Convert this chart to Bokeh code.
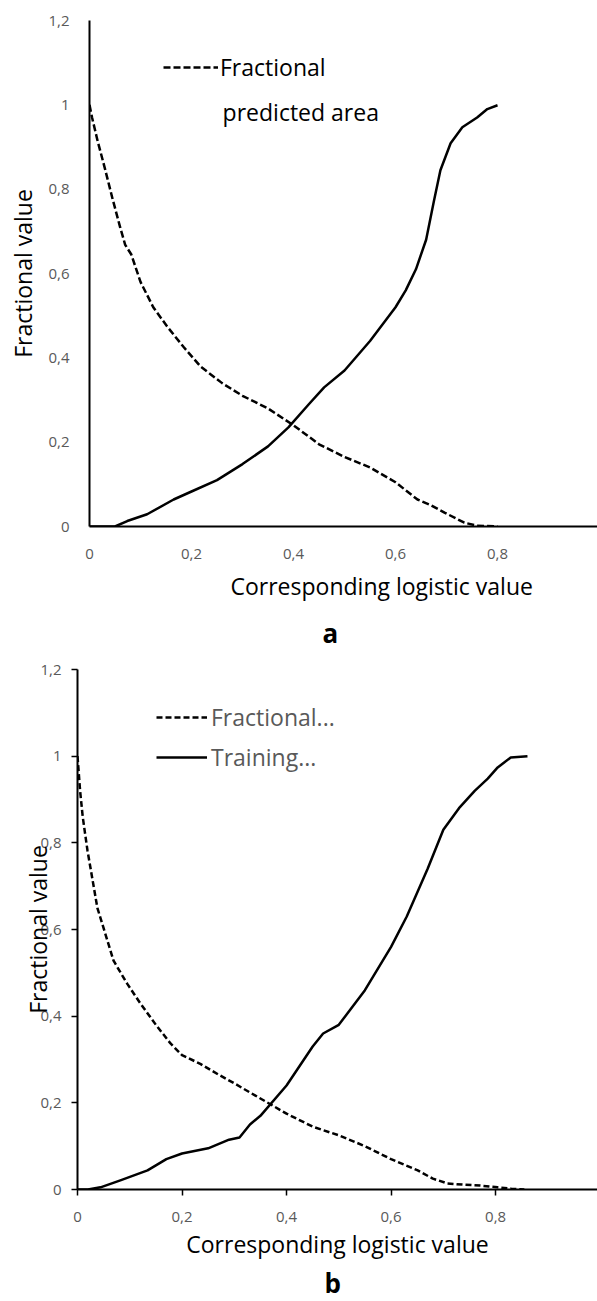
from bokeh.plotting import figure
from bokeh.models import (Range1d, FixedTicker, CustomJSTickFormatter, Label,
                          Legend, LegendItem, Title)
from bokeh.embed import file_html
from bokeh.resources import INLINE

# ---- data (a) ----
a_area_x = [0, 0.005, 0.016, 0.03, 0.045, 0.06, 0.07, 0.082, 0.1, 0.125, 0.153, 0.185, 0.218, 0.26,
            0.3, 0.35, 0.4, 0.45, 0.5, 0.55, 0.6, 0.643, 0.67, 0.696, 0.735, 0.76, 0.8]
a_area_y = [1.0, 0.97, 0.914, 0.85, 0.778, 0.71, 0.668, 0.645, 0.58, 0.52, 0.473, 0.425, 0.379, 0.34,
            0.31, 0.28, 0.24, 0.195, 0.165, 0.14, 0.105, 0.064, 0.05, 0.033, 0.009, 0.002, 0.0]
a_train_x = [0, 0.05, 0.074, 0.113, 0.165, 0.2, 0.25, 0.3, 0.35, 0.39, 0.43, 0.46, 0.5, 0.55, 0.6,
             0.62, 0.64, 0.66, 0.675, 0.688, 0.708, 0.731, 0.76, 0.78, 0.8]
a_train_y = [0, 0, 0.013, 0.029, 0.064, 0.083, 0.11, 0.148, 0.19, 0.235, 0.29, 0.33, 0.37, 0.44, 0.52,
             0.56, 0.61, 0.68, 0.77, 0.845, 0.909, 0.947, 0.97, 0.99, 0.999]

# ---- data (b) ----
b_area_x = [0, 0.005, 0.01, 0.019, 0.038, 0.069, 0.095, 0.12, 0.15, 0.178, 0.2, 0.235, 0.27, 0.3,
            0.35, 0.4, 0.45, 0.5, 0.55, 0.6, 0.651, 0.68, 0.708, 0.74, 0.771, 0.804, 0.83, 0.855]
b_area_y = [1.0, 0.92, 0.86, 0.783, 0.65, 0.528, 0.475, 0.43, 0.38, 0.337, 0.31, 0.29, 0.265, 0.245,
            0.21, 0.175, 0.145, 0.125, 0.1, 0.07, 0.044, 0.025, 0.014, 0.011, 0.009, 0.005, 0.002, 0.0]
b_train_x = [0, 0.02, 0.044, 0.082, 0.134, 0.17, 0.2, 0.25, 0.29, 0.31, 0.33, 0.35, 0.4, 0.45, 0.47,
             0.5, 0.55, 0.6, 0.63, 0.67, 0.7, 0.73, 0.76, 0.785, 0.804, 0.829, 0.861]
b_train_y = [0, 0.0, 0.005, 0.021, 0.044, 0.07, 0.083, 0.095, 0.115, 0.12, 0.15, 0.17, 0.24, 0.33, 0.36,
             0.38, 0.46, 0.56, 0.63, 0.74, 0.83, 0.88, 0.92, 0.948, 0.974, 0.997, 1.0]

y_ticks = [0, 0.2, 0.4, 0.6, 0.8, 1.0, 1.2]
x_ticks = [0, 0.2, 0.4, 0.6, 0.8, 1.0]
x_title = "Corresponding logistic value"
y_title = "Fractional value"

FONT = "Open Sans"
TXT = "23px"
fmt_code = "var s = tick.toFixed(1).replace('.', ','); if (s.endsWith(',0')) { s = s.slice(0, -2); } return s;"


def base_fig(height, left, top, bottom, xend, ticks_visible):
    p = figure(width=597, height=height, output_backend="svg", toolbar_location=None,
               x_range=Range1d(0, xend), y_range=Range1d(0, 1.2),
               min_border_left=left, min_border_right=0, min_border_top=top, min_border_bottom=bottom)
    p.outline_line_color = None
    p.grid.visible = False
    for ax, tk in ((p.xaxis[0], x_ticks), (p.yaxis[0], y_ticks)):
        ax.ticker = FixedTicker(ticks=tk)
        ax.formatter = CustomJSTickFormatter(code=fmt_code)
        ax.axis_line_width = 2
        ax.axis_line_color = "black"
        ax.minor_tick_line_color = None
        ax.major_label_text_font = FONT
        ax.major_label_text_font_size = "15px"
        ax.major_label_text_color = "#595959"
        ax.axis_label_text_font = FONT
        ax.axis_label_text_font_size = TXT
        ax.axis_label_text_font_style = "normal"
        ax.axis_label_text_color = "black"
        if ticks_visible:
            ax.major_tick_in = 0
            ax.major_tick_out = 6
            ax.major_tick_line_width = 1.5
            ax.major_tick_line_color = "black"
        else:
            ax.major_tick_line_color = None
            ax.major_tick_in = 0
            ax.major_tick_out = 0
    return p


# ---------- chart a ----------
p1 = base_fig(655, 89, 20, 128, 0.996, False)
p1.xaxis[0].major_label_standoff = 22
p1.yaxis[0].major_label_standoff = 20
p1.yaxis[0].axis_label = y_title
p1.yaxis[0].axis_label_standoff = 6
ra_area = p1.line(a_area_x, a_area_y, line_color="black", line_width=2.5, line_dash="7 3", line_join="round")
ra_train = p1.line(a_train_x, a_train_y, line_color="black", line_width=2.5, line_join="round")

leg1 = Legend(items=[LegendItem(label="Fractional", renderers=[ra_area])],
              location=(74, 443), padding=0, margin=0, border_line_color=None,
              background_fill_alpha=0, glyph_width=55, glyph_height=20, label_standoff=2,
              label_text_font=FONT, label_text_font_size=TXT, label_text_color="black")
p1.add_layout(leg1, "center")
p1.add_layout(Label(x=0.261, y=0.982, text="predicted area", text_font=FONT, text_font_size=TXT,
                    text_align="left", text_baseline="middle", text_color="black"))
p1.add_layout(Title(text=x_title, align="left", offset=141, standoff=13, text_font=FONT,
                    text_font_size=TXT, text_font_style="normal", text_color="black"), "below")
p1.add_layout(Title(text="a", align="left", offset=233, standoff=9, text_font=FONT,
                    text_font_size="26px", text_font_style="bold", text_color="black"), "below")

# ---------- chart b ----------
p2 = base_fig(645, 77, 14, 111, 0.995, True)
p2.xaxis[0].major_label_standoff = 16
p2.yaxis[0].major_label_standoff = 10
p2.xaxis[0].axis_label = x_title
p2.xaxis[0].axis_label_standoff = 3
p2.yaxis[0].axis_label = y_title
p2.yaxis[0].axis_label_standoff = -17
rb_area = p2.line(b_area_x, b_area_y, line_color="black", line_width=2.5, line_dash="6 3", line_join="round")
rb_train = p2.line(b_train_x, b_train_y, line_color="black", line_width=2.5, line_join="round")

leg2 = Legend(items=[LegendItem(label="Fractional...", renderers=[rb_area]),
                     LegendItem(label="Training...", renderers=[rb_train])],
              location=(79, 416), padding=0, margin=0, spacing=8, border_line_color=None,
              background_fill_alpha=0, glyph_width=51, glyph_height=20, label_standoff=4,
              label_text_font=FONT, label_text_font_size=TXT, label_text_color="#595959")
p2.add_layout(leg2, "center")
p2.add_layout(Title(text="b", align="left", offset=247, standoff=0, text_font=FONT,
                    text_font_size="26px", text_font_style="bold", text_color="black"), "below")

open("out.html", "w").write(file_html([p1, p2], INLINE))
